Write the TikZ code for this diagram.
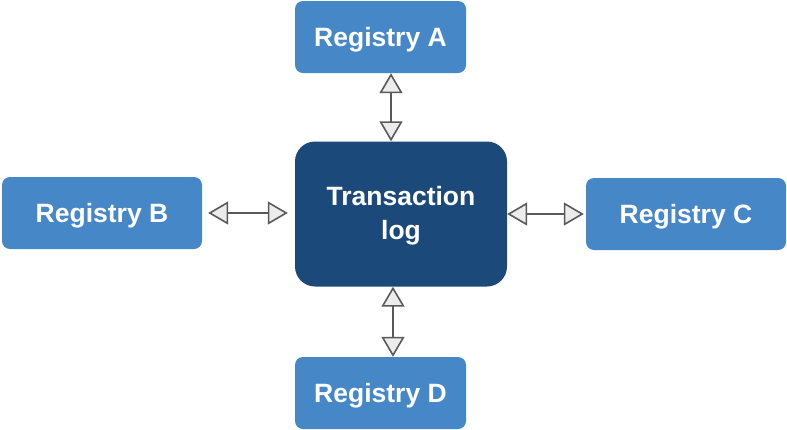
\documentclass[tikz,border=0pt]{standalone}
\usepackage{fontspec}
\setmainfont{Liberation Sans}
\usetikzlibrary{arrows.meta}
\definecolor{regblue}{RGB}{70,135,200}
\definecolor{logblue}{RGB}{27,74,122}
\definecolor{linkgray}{RGB}{90,90,90}
\definecolor{tipgray}{RGB}{236,236,236}
\begin{document}
\begin{tikzpicture}[x=1pt, y=-1pt,
    registry/.style={fill=regblue, text=white, rounded corners=8pt, minimum height=72pt, inner sep=0pt,
        text height=22pt, text depth=4pt, font=\bfseries\fontsize{26.5}{34}\selectfont},
    txlog/.style={fill=logblue, text=white, rounded corners=20pt, minimum width=212pt, minimum height=145pt,
        align=center, inner sep=0pt, font=\bfseries\fontsize{26.5}{34}\selectfont},
    link/.style={draw=linkgray, line width=1.6pt, <->},
    >={Triangle[length=20pt, width=23pt, fill=tipgray]}]
\useasboundingbox (0,0) rectangle (787,429);

\foreach \name/\x/\y/\w in {A/380.5/37/171, B/102/213/200, C/686/214/200, D/380.5/393/171}
{
    \node[registry, minimum width=\w pt] (reg\name) at (\x,\y) {Registry \name};
}
\node[txlog] (log) at (401,214) {\rule{0pt}{23.5pt}Transaction\\log};

\draw[link] ([xshift=10.5pt]regA.south) -- ([xshift=-10pt]log.north);
\draw[link, shorten <=6pt, shorten >=7pt] (regB.east) -- (regB.east -| log.west);
\draw[link, shorten >=2pt] (log.east) -- (log.east -| regC.west);
\draw[link] ([xshift=-8pt]log.south) -- ([xshift=12.5pt]regD.north);
\end{tikzpicture}
\end{document}
